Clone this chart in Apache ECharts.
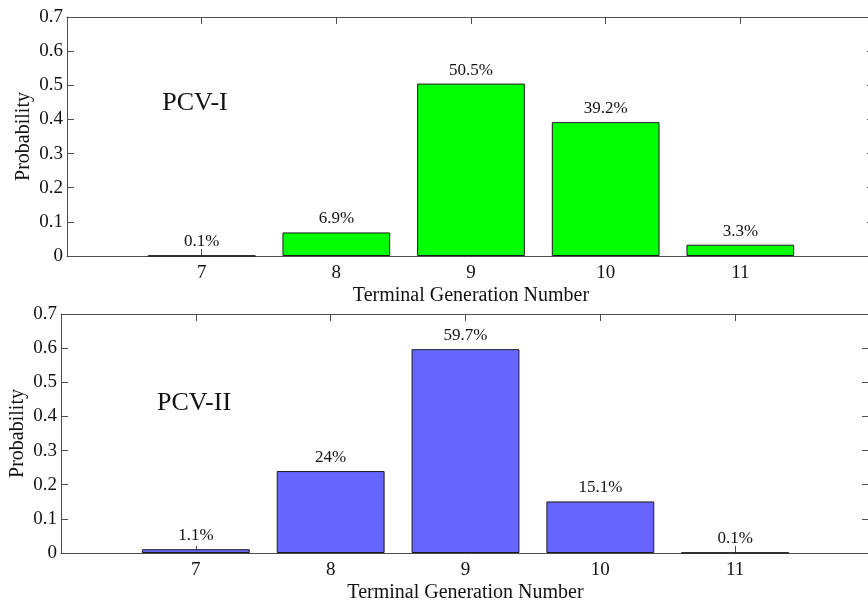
<!DOCTYPE html>
<html>
<head>
<meta charset="utf-8">
<script src="https://cdn.jsdelivr.net/npm/echarts@6/dist/echarts.min.js"></script>
<style>
  html, body { margin: 0; padding: 0; background: #fff; }
  #chart { width: 868px; height: 605px; }
</style>
</head>
<body>
<div id="chart"></div>
<script>
// Terminal generation numbers (x positions of the bars)
const generations = [7, 8, 9, 10, 11];
// Probability of each terminal generation number
const pcv1Values = [0.001, 0.069, 0.505, 0.392, 0.033];
const pcv2Values = [0.011, 0.240, 0.597, 0.151, 0.001];
// Y tick values shown on the left axes
const yTicks = [0, 0.1, 0.2, 0.3, 0.4, 0.5, 0.6, 0.7];
const panelNames = ['PCV-I', 'PCV-II'];
const xName = 'Terminal Generation Number';
const yName = 'Probability';

const FONT = '"Liberation Serif", "Times New Roman", serif';
const AXIS_COLOR = '#4d4d4d';

function pct(v) {
  return parseFloat((v * 100).toFixed(1)) + '%';
}

function pairs(values) {
  return generations.map((g, i) => [g, values[i]]);
}

const grids = [
  { left: 67, top: 17, width: 808, height: 239, outerBoundsMode: 'none', containLabel: false },
  { left: 61, top: 314, width: 809, height: 239, outerBoundsMode: 'none', containLabel: false }
];

const xAxes = [];
const yAxes = [];
grids.forEach((g, i) => {
  // bottom axis with tick labels and name
  xAxes.push({
    gridIndex: i, type: 'value', min: 6, max: 12, interval: 1, position: 'bottom',
    name: xName, nameLocation: 'middle', nameGap: 30, nameMoveOverlap: false,
    nameTextStyle: { fontFamily: FONT, fontSize: 20, color: '#111' },
    axisLine: { show: true, onZero: false, lineStyle: { color: AXIS_COLOR, width: 1 } },
    axisTick: { inside: true, length: 7, lineStyle: { color: AXIS_COLOR } },
    axisLabel: {
      fontFamily: FONT, fontSize: 19, color: '#111', margin: 8,
      formatter: v => generations.indexOf(v) >= 0 ? String(v) : ''
    },
    splitLine: { show: false }
  });
  // top edge of the box
  xAxes.push({
    gridIndex: i, type: 'value', min: 6, max: 12, interval: 1, position: 'top',
    axisLine: { show: true, onZero: false, lineStyle: { color: AXIS_COLOR, width: 1 } },
    axisTick: { inside: true, length: 7, lineStyle: { color: AXIS_COLOR } },
    axisLabel: { show: false },
    splitLine: { show: false }
  });
  // left axis with probabilities
  yAxes.push({
    gridIndex: i, type: 'value', min: yTicks[0], max: yTicks[yTicks.length - 1], interval: 0.1,
    position: 'left',
    name: yName, nameLocation: 'middle', nameGap: 33, nameMoveOverlap: false,
    nameTextStyle: { fontFamily: FONT, fontSize: 20, color: '#111' },
    axisLine: { show: true, onZero: false, lineStyle: { color: AXIS_COLOR, width: 1 } },
    axisTick: { inside: true, length: 7, lineStyle: { color: AXIS_COLOR } },
    axisLabel: {
      fontFamily: FONT, fontSize: 19, color: '#111', margin: 4,
      formatter: v => String(parseFloat(v.toFixed(1)))
    },
    splitLine: { show: false }
  });
  // right edge of the box
  yAxes.push({
    gridIndex: i, type: 'value', min: yTicks[0], max: yTicks[yTicks.length - 1], interval: 0.1,
    position: 'right',
    axisLine: { show: true, onZero: false, lineStyle: { color: AXIS_COLOR, width: 1 } },
    axisTick: { inside: true, length: 8, lineStyle: { color: AXIS_COLOR } },
    axisLabel: { show: false },
    splitLine: { show: false }
  });
});

function barSeries(values, gridIdx, color) {
  return {
    type: 'bar',
    xAxisIndex: gridIdx * 2,
    yAxisIndex: gridIdx * 2,
    data: pairs(values),
    barWidth: '80%',
    itemStyle: { color: color, borderColor: '#1a1a1a', borderWidth: 1 },
    label: {
      show: true, position: 'top', distance: 5,
      fontFamily: FONT, fontSize: 17, color: '#111',
      formatter: p => pct(p.value[1])
    },
    silent: true,
    animation: false
  };
}

const chart = echarts.init(document.getElementById('chart'), null, { renderer: 'canvas' });
chart.setOption({
  backgroundColor: '#fff',
  animation: false,
  grid: grids,
  xAxis: xAxes,
  yAxis: yAxes,
  series: [
    barSeries(pcv1Values, 0, '#00ff00'),
    barSeries(pcv2Values, 1, '#6666ff')
  ],
  graphic: [
    { type: 'text', x: 195, y: 103, style: { text: panelNames[0], fontFamily: FONT, fontSize: 26, fill: '#111', textAlign: 'center', textVerticalAlign: 'middle' } },
    { type: 'text', x: 194, y: 403, style: { text: panelNames[1], fontFamily: FONT, fontSize: 26, fill: '#111', textAlign: 'center', textVerticalAlign: 'middle' } }
  ]
});
</script>
</body>
</html>
